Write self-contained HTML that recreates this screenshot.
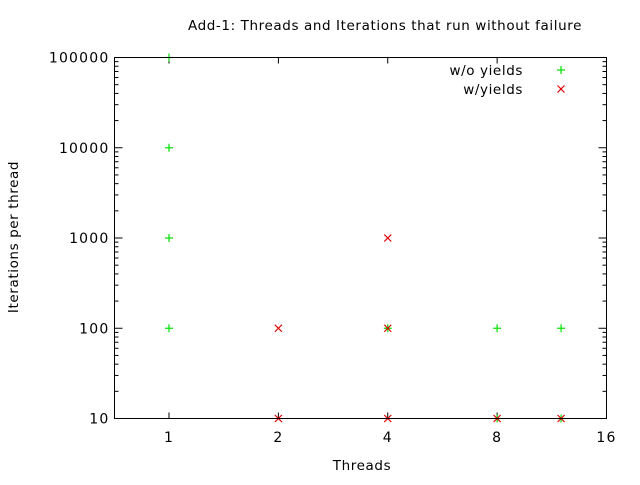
<!DOCTYPE html>
<html><head><meta charset="utf-8"><style>
body{margin:0;background:#fff}
svg text{font-family:"DejaVu Sans","Liberation Sans",sans-serif;font-size:13.5px;fill:#000;letter-spacing:0.6px}
svg text.tk{font-size:14px;letter-spacing:1.2px}
</style></head><body>
<svg id="c" width="640" height="480">
<rect x="0" y="0" width="640" height="480" fill="#fff"/>
<text x="385" y="30" text-anchor="middle">Add-1: Threads and Iterations that run without failure</text>
<text x="362" y="470" text-anchor="middle">Threads</text>
<text transform="translate(18,237) rotate(-90)" text-anchor="middle">Iterations per thread</text>
<g id="axes"></g>
<g id="marks"></g>
<rect x="114.5" y="57.5" width="492" height="361" fill="none" stroke="#000"/>
<g>
<text x="523" y="75" text-anchor="end">w/o yields</text>
<text x="523" y="94" text-anchor="end">w/yields</text>
<g id="leg"></g>
</g>
</svg>
<script>
const xTicks=[1,2,4,8,16];
const yTicks=[10,100,1000,10000,100000];
const woX=[1,1,1,1,4,8,12,8,12];
const woY=[100000,10000,1000,100,100,100,100,10,10];
const wX=[2,4,4,2,4,8,12];
const wY=[100,100,1000,10,10,10,10];
const NS="http://www.w3.org/2000/svg";
const L=114.5,R=606.5,T=57.5,B=418.5;
const xmin=Math.log2(16)-(R-L)/((606.5-169)/4);
function xs(v){return L+(Math.log2(v)-xmin)/(4-xmin)*(R-L);}
function ys(v){return B-(Math.log10(v)-1)/4*(B-T);}
function mk(t,a,p){const e=document.createElementNS(NS,t);for(const k in a)e.setAttribute(k,a[k]);p.appendChild(e);return e;}
const ax=document.getElementById('axes');
xTicks.forEach(v=>{const x=xs(v);
 const l=mk('line',{x1:x,x2:x,y1:B,y2:B-6,stroke:'#000'},ax);
 
 
 const l2=mk('line',{x1:x,x2:x,y1:T,y2:T+6,stroke:'#000'},ax);
 
 
 const t=mk('text',{x:x,y:442,'text-anchor':'middle','class':'tk'},ax);t.textContent=v;
 
 
});
yTicks.forEach((v,i)=>{const y=ys(v);
 [[L,L+8],[R,R-8]].forEach(p=>{const l=mk('line',{x1:p[0],x2:p[1],y1:y,y2:y,stroke:'#000'},ax);
 
 });
 const t=mk('text',{x:L-5,y:y+5,'text-anchor':'end','class':'tk'},ax);t.textContent=v;
 
 
 if(i<yTicks.length-1)for(let m=2;m<10;m++){const yy=ys(v*m);
  [[L,L+4],[R,R-4]].forEach(p=>{const l=mk('line',{x1:p[0],x2:p[1],y1:yy,y2:yy,stroke:'#000'},ax);
  
  });}
});
const mg=document.getElementById('marks');
function plus(x,y,p){const g=mk('g',{stroke:'#00e000','stroke-width':1.2},p);
 mk('line',{x1:x-4,x2:x+4,y1:y,y2:y},g);mk('line',{x1:x,x2:x,y1:y-4,y2:y+4},g);return g;}
function cross(x,y,p){const g=mk('g',{stroke:'#e00000','stroke-width':1.2},p);
 mk('line',{x1:x-3.5,x2:x+3.5,y1:y-3.5,y2:y+3.5},g);mk('line',{x1:x-3.5,x2:x+3.5,y1:y+3.5,y2:y-3.5},g);return g;}
woX.forEach((v,i)=>{const g=plus(xs(v),ys(woY[i]),mg);
 
 });
wX.forEach((v,i)=>{const g=cross(xs(v),ys(wY[i]),mg);
 
 });
const lg=document.getElementById('leg');
const a=plus(561,70,lg);


const b=cross(561,89,lg);


</script>
</body></html>
